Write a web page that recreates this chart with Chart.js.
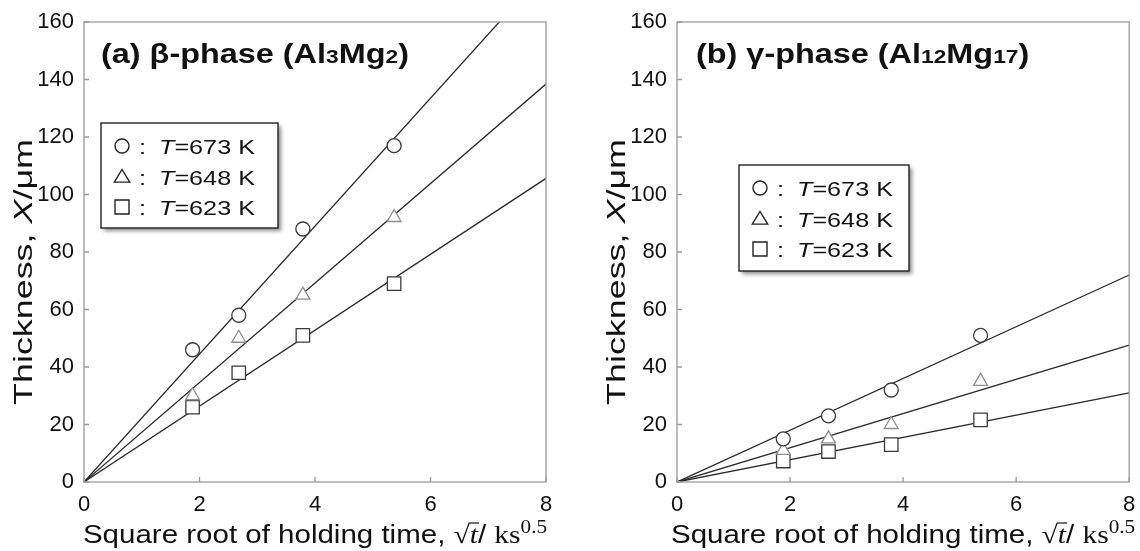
<!DOCTYPE html>
<html>
<head>
<meta charset="utf-8">
<script src="https://cdn.jsdelivr.net/npm/chart.js@4"></script>
<style>
  html, body { margin: 0; padding: 0; background: #fff; }
  #wrap { position: relative; width: 1140px; height: 551px; overflow: hidden; }
  canvas { position: absolute; top: 0; }
</style>
</head>
<body>
<div id="wrap">
  <canvas id="chartA" width="570" height="551" style="left:0"></canvas>
  <canvas id="chartB" width="570" height="551" style="left:570px"></canvas>
</div>
<script>
// sqrt of holding time, ks^0.5
const sqrtTime = [1.88, 2.68, 3.79, 5.37];
const xTicks = [0, 2, 4, 6, 8];
const yTicks = [0, 20, 40, 60, 80, 100, 120, 140, 160];

// (a) beta-phase thickness, um
const betaT673 = [46, 58, 88, 117];
const betaT648 = [30, 50, 65, 92];
const betaT623 = [26, 38, 51, 69];

// (b) gamma-phase thickness, um
const gammaT673 = [15, 23, 32, 51];
const gammaT648 = [11, 15, 20, 35];
const gammaT623 = [7.3, 10.6, 13, 21.6];

// fitted parabolic lines, from origin to x = 8
const fitX = [0, 8];
const betaFit673 = [0, 178];
const betaFit648 = [0, 138.4];
const betaFit623 = [0, 105.6];
const gammaFit673 = [0, 72];
const gammaFit648 = [0, 47.6];
const gammaFit623 = [0, 31];

const legendLabels = ["673", "648", "623"];

const SANS = "'Liberation Sans', Arial, sans-serif";
const SERIF = "'Liberation Serif', 'Times New Roman', serif";

function pts(xs, ys) {
  return xs.map((x, i) => ({ x, y: ys[i] }));
}

// draws a row of mixed-font text; sx stretches it along its length
function drawRuns(ctx, runs, x, y, align, sx = 1) {
  let total = 0;
  runs.forEach(r => { ctx.font = r.font; total += ctx.measureText(r.t).width; });
  ctx.save();
  ctx.translate(x, y);
  ctx.scale(sx, 1);
  let cx = align === "center" ? -total / 2 : 0;
  ctx.textAlign = "left";
  ctx.textBaseline = "alphabetic";
  runs.forEach(r => {
    ctx.font = r.font;
    const w = ctx.measureText(r.t).width;
    ctx.fillText(r.t, cx, r.dy || 0);
    if (r.overline) {
      ctx.beginPath();
      ctx.lineWidth = 1.2;
      ctx.moveTo(cx - 1, -r.overline);
      ctx.lineTo(cx + w + 1, -r.overline);
      ctx.stroke();
    }
    cx += w;
  });
  ctx.restore();
}

function marker(ctx, style, cx, cy, r, color) {
  ctx.save();
  ctx.strokeStyle = color;
  ctx.lineWidth = 1.4;
  ctx.beginPath();
  if (style === "circle") ctx.arc(cx, cy, r, 0, Math.PI * 2);
  else if (style === "rect") ctx.rect(cx - r, cy - r, 2 * r, 2 * r);
  else {
    ctx.moveTo(cx, cy - r);
    ctx.lineTo(cx + r * 1.1, cy + r * 0.8);
    ctx.lineTo(cx - r * 1.1, cy + r * 0.8);
    ctx.closePath();
  }
  ctx.stroke();
  ctx.restore();
}

const decor = {
  id: "decor",
  afterDraw(chart, args, o) {
    const ctx = chart.ctx;
    const a = chart.chartArea;
    const xs = chart.scales.x, ys = chart.scales.y;
    ctx.save();
    // frame
    ctx.strokeStyle = "#9a9a9a";
    ctx.lineWidth = 1.3;
    ctx.strokeRect(a.left, a.top, a.right - a.left, a.bottom - a.top);
    // inward tick marks
    ctx.beginPath();
    xTicks.forEach(v => {
      const px = xs.getPixelForValue(v);
      ctx.moveTo(px, a.bottom); ctx.lineTo(px, a.bottom - 5);
    });
    yTicks.forEach(v => {
      const py = ys.getPixelForValue(v);
      ctx.moveTo(a.left, py); ctx.lineTo(a.left + 5, py);
    });
    ctx.stroke();

    ctx.fillStyle = "#111";
    ctx.strokeStyle = "#111";
    // panel title
    drawRuns(ctx, o.title, a.left + o.titleDx, 63, "left", 1.2);

    // y axis title (tall, narrow lettering)
    ctx.save();
    ctx.translate(a.left - 52, (a.top + a.bottom) / 2 + 20);
    ctx.rotate(-Math.PI / 2);
    drawRuns(ctx, [
      { t: "Thickness, ", font: "26px " + SANS },
      { t: "X", font: "italic 26px " + SANS },
      { t: "/μm", font: "26px " + SANS }
    ], 0, 0, "center", 1.38);
    ctx.restore();

    // x axis title
    drawRuns(ctx, [
      { t: "Square root of holding time, ", font: "25px " + SANS },
      { t: "√", font: "25px " + SERIF },
      { t: "t", font: "italic 25px " + SERIF, overline: 20 },
      { t: "/ ", font: "25px " + SANS },
      { t: "ks", font: "25px " + SERIF },
      { t: "0.5", font: "18px " + SERIF, dy: -10 }
    ], (a.left + a.right) / 2, 543, "center", 1.18);

    // legend box
    const b = o.box;
    ctx.save();
    ctx.shadowColor = "rgba(0,0,0,0.45)";
    ctx.shadowBlur = 4;
    ctx.shadowOffsetX = 3;
    ctx.shadowOffsetY = 3;
    ctx.fillStyle = "#fff";
    ctx.fillRect(b.x, b.y, b.w, b.h);
    ctx.restore();
    ctx.strokeStyle = "#222";
    ctx.lineWidth = 1.4;
    ctx.strokeRect(b.x, b.y, b.w, b.h);
    const styles = ["circle", "triangle", "rect"];
    legendLabels.forEach((lab, i) => {
      const cy = b.y + 23 + i * 30.5;
      marker(ctx, styles[i], b.x + 21, cy, 7, "#222");
      ctx.fillStyle = "#111";
      drawRuns(ctx, [{ t: ":", font: "21px " + SANS }], b.x + 38, cy + 8, "left", 1.2);
      drawRuns(ctx, [
        { t: "T", font: "italic 21px " + SANS },
        { t: "=" + lab + " K", font: "21px " + SANS }
      ], b.x + 58, cy + 8, "left", 1.2);
    });
    ctx.restore();
  }
};

function makeChart(id, s673, s648, s623, f673, f648, f623, padRight, yWidth, title, titleDx, box) {
  const lineDs = (ys) => ({
    type: "line", data: pts(fitX, ys), showLine: true, borderColor: "#2a2a2a",
    borderWidth: 1.3, pointRadius: 0, fill: false, order: 2, tension: 0
  });
  const markDs = (ys, style, color, r) => ({
    data: pts(sqrtTime, ys), pointStyle: style, pointRadius: r, pointHoverRadius: r,
    pointBorderColor: color, pointBackgroundColor: "#fff", pointBorderWidth: 1.3,
    showLine: false, order: 1
  });
  return new Chart(document.getElementById(id), {
    type: "scatter",
    data: {
      datasets: [
        markDs(s673, "circle", "#3a3a3a", 7),
        markDs(s648, "triangle", "#8e8e8e", 8),
        markDs(s623, "rect", "#3a3a3a", 9.5),
        lineDs(f673), lineDs(f648), lineDs(f623)
      ]
    },
    options: {
      responsive: false,
      animation: false,
      events: [],
      layout: { padding: { top: 22, right: padRight, left: 0, bottom: 0 } },
      plugins: {
        legend: { display: false },
        tooltip: { enabled: false },
        decor: { title, titleDx, box }
      },
      scales: {
        x: {
          type: "linear", min: 0, max: 8,
          afterBuildTicks: (s) => { s.ticks = xTicks.map(v => ({ value: v })); },
          // keep the plot edge fixed even if the last tick label spills over
          afterFit: (s) => { s.height = 69; s.paddingLeft = 0; s.paddingRight = 0; },
          ticks: { color: "#111", font: { family: SANS, size: 22 }, padding: 10, maxRotation: 0 },
          grid: { display: false, drawTicks: false },
          border: { display: false }
        },
        y: {
          type: "linear", min: 0, max: 160,
          afterBuildTicks: (s) => { s.ticks = yTicks.map(v => ({ value: v })); },
          afterFit: (s) => { s.width = yWidth; s.paddingTop = 0; s.paddingBottom = 0; },
          ticks: { color: "#111", font: { family: SANS, size: 22 }, padding: 10 },
          grid: { display: false, drawTicks: false },
          border: { display: false }
        }
      }
    },
    plugins: [decor]
  });
}

makeChart("chartA", betaT673, betaT648, betaT623, betaFit673, betaFit648, betaFit623,
  24, 84,
  [
    { t: "(a) β-phase (Al", font: "bold 27px " + SANS },
    { t: "3", font: "bold 19px " + SANS },
    { t: "Mg", font: "bold 27px " + SANS },
    { t: "2", font: "bold 19px " + SANS },
    { t: ")", font: "bold 27px " + SANS }
  ], 17, { x: 101, y: 123, w: 177, h: 105 });

makeChart("chartB", gammaT673, gammaT648, gammaT623, gammaFit673, gammaFit648, gammaFit623,
  2, 107,
  [
    { t: "(b) γ-phase (Al", font: "bold 27px " + SANS },
    { t: "12", font: "bold 19px " + SANS },
    { t: "Mg", font: "bold 27px " + SANS },
    { t: "17", font: "bold 19px " + SANS },
    { t: ")", font: "bold 27px " + SANS }
  ], 19, { x: 169, y: 165, w: 170, h: 106 });
</script>
</body>
</html>
